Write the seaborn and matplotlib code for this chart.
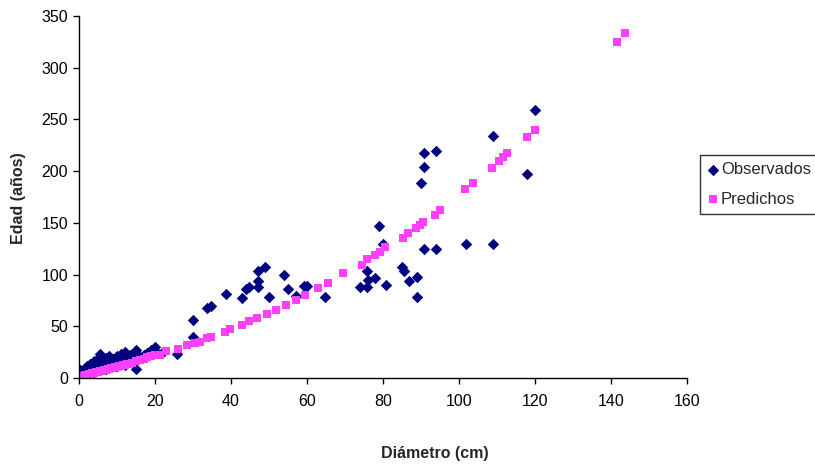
import pandas as pd
import matplotlib.pyplot as plt
import seaborn as sns

sns.set_style("ticks")
plt.rcParams['font.family'] = ['Liberation Sans', 'DejaVu Sans']

# Observados (diametro cm, edad años)
obs_diam = [0, 0, 0.3, 0.5, 1, 1, 1.5, 2, 2, 2.5, 3, 3, 3.5, 4, 4, 4.5, 5, 5, 5.5, 6,
            6, 6.5, 7, 7, 7.5, 8, 8, 8.5, 9, 9.5, 10, 10, 10.5, 11, 11.5, 12, 12, 13,
            13.5, 14, 15, 15, 16, 17, 18, 19, 20, 20, 22, 25.8, 30, 30, 33.7, 34.7,
            38.7, 43, 44, 44.7, 47, 47, 47, 49, 50, 54, 55, 57, 59.3, 60, 64.7, 74,
            75.8, 75.8, 76, 78, 79, 80, 80.8, 85, 85.5, 86.8, 89, 89, 90, 90.8, 90.8,
            90.8, 94, 94, 101.8, 109, 109, 118, 120]
obs_edad = [0, 4, 8, 2, 6, 1, 10, 4, 12, 7, 14, 3, 9, 16, 6, 11, 18, 8, 23, 20,
            12, 16, 19, 9, 14, 17, 21, 11, 18, 15, 21, 12, 17, 23, 20, 25, 13, 18,
            22, 19, 27, 9, 20, 22, 24, 27, 30, 26, 25, 23, 40, 56, 68, 70,
            81, 77, 86, 88, 103, 94, 88, 107, 78, 100, 86, 79, 89, 89, 78, 88,
            88, 103, 95, 97, 147, 130, 90, 107, 103, 94, 98, 78, 188, 204, 217,
            125, 219, 125, 130, 234, 130, 197, 259]

# Predichos
pred_diam = [0, 0.5, 1, 1.5, 2, 2.5, 3, 3.5, 4, 4.5, 5, 5.5, 6, 6.5, 7, 7.5, 8, 8.5,
             9, 9.5, 10, 10.5, 11, 11.5, 12, 12.5, 13, 14, 15, 16, 17, 18, 19, 20,
             21.3, 23, 26, 28.4, 30.5, 31.8, 33.7, 34.7, 38.4, 39.7, 43, 44.7, 46.9,
             49.4, 51.8, 54.5, 57, 59.5, 63, 65.5, 69.5, 74.4, 75.8, 77.9, 79.2, 80.5,
             85.3, 86.6, 88.7, 89.7, 90.5, 93.7, 95, 101.6, 103.7, 108.8, 110.5, 111.6,
             112.6, 118, 120, 141.6, 143.7]
pred_edad = [1, 2, 2, 3, 3, 4, 4, 5, 5, 6, 6, 7, 7, 8, 8, 9, 9, 10,
             10, 11, 11, 12, 12, 13, 13, 14, 14, 15, 16, 17, 18, 20, 21, 22,
             22, 26, 28, 32, 34, 35, 38.7, 40, 44.5, 47, 51, 55, 58,
             62, 66, 70.5, 75, 80, 87, 92, 101.5, 109, 115, 119, 122, 127,
             135, 140, 145, 148, 151, 158, 162, 183, 188, 203, 210, 214,
             217, 233, 240, 325, 333]

obs = pd.DataFrame({'diam': obs_diam, 'edad': obs_edad})
pred = pd.DataFrame({'diam': pred_diam, 'edad': pred_edad})

fig = plt.figure(figsize=(8.15, 4.65), dpi=100)
ax = fig.add_axes([0.097, 0.187, 0.746, 0.779])

sns.scatterplot(data=obs, x='diam', y='edad', ax=ax, marker='D', color='#000080',
                s=34, linewidth=0, label='Observados')
sns.scatterplot(data=pred, x='diam', y='edad', ax=ax, marker='s', color='#ff40ff',
                s=36, linewidth=0, label='Predichos')

ax.set_xlim(0, 160)
ax.set_ylim(0, 350)
ax.set_xticks(range(0, 161, 20))
ax.set_yticks(range(0, 351, 50))
ax.tick_params(axis='both', labelsize=11.5, length=4.5, width=1, direction='out',
               color='black', labelcolor='black')
ax.tick_params(axis='x', pad=7)
for side in ['left', 'bottom']:
    ax.spines[side].set_color('black')
    ax.spines[side].set_linewidth(1)
sns.despine(ax=ax)

ax.set_xlabel('Diámetro (cm)', fontsize=11.5, fontweight='bold')
ax.set_ylabel('Edad (años)', fontsize=11.5, fontweight='bold')
ax.xaxis.set_label_coords(0.585, -0.188)
ax.yaxis.set_label_coords(-0.087, 0.497)

leg = ax.legend(loc='upper left', bbox_to_anchor=(0.859, 0.667),
                bbox_transform=fig.transFigure, frameon=True, fancybox=False,
                fontsize=12, handletextpad=0.1, handlelength=0.7,
                borderpad=0.45, labelspacing=0.85, borderaxespad=0)
leg.get_frame().set_edgecolor('black')
leg.get_frame().set_linewidth(1)

plt.savefig('out.png', dpi=100)
